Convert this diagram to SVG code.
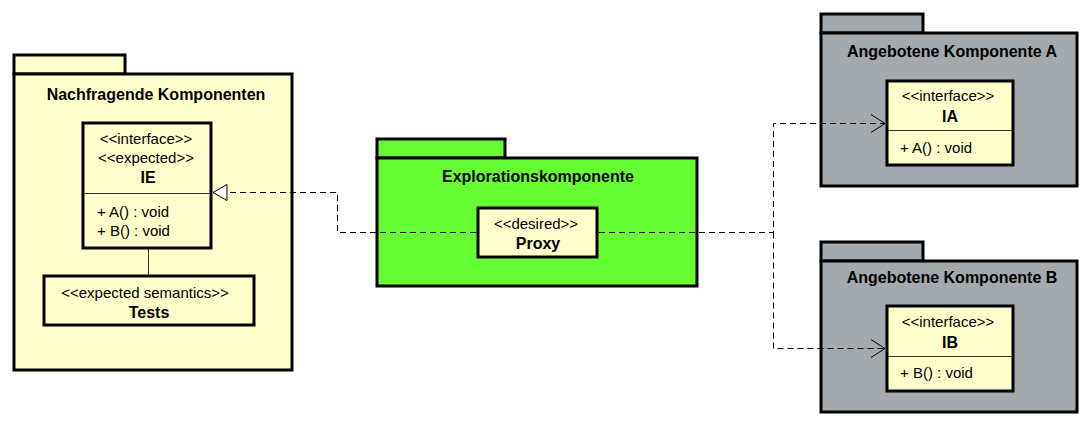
<svg xmlns="http://www.w3.org/2000/svg" width="1092" height="425" viewBox="0 0 1092 425">
  <style>
    .pkg { stroke: #000; stroke-width: 3; }
    .yel { fill: #FFFFCC; }
    .grn { fill: #66FF33; }
    .gry { fill: #A3A9AC; }
    .cls { fill: #FFFFCC; stroke: #000; stroke-width: 3; }
    .div { stroke: #333; stroke-width: 1; }
    .t { font-family: "Liberation Sans", Arial, sans-serif; font-size: 15px; fill: #000; }
    .b { font-family: "Liberation Sans", Arial, sans-serif; font-size: 16px; font-weight: bold; fill: #000; }
    .c { text-anchor: middle; }
    .dash { fill: none; stroke: #000; stroke-width: 1; stroke-dasharray: 6 4; }
  </style>
  <defs>
    <marker id="tri" markerUnits="userSpaceOnUse" markerWidth="17" markerHeight="19" viewBox="0 0 17 19" refX="16" refY="9.5" orient="auto">
      <path d="M2,1.5 L16,9.5 L2,17.5 Z" fill="#fff" stroke="#000" stroke-width="1"/>
    </marker>
    <marker id="open" markerUnits="userSpaceOnUse" markerWidth="17" markerHeight="20" viewBox="0 0 17 20" refX="16" refY="10" orient="auto">
      <path d="M2,1 L16,10 L2,19" fill="none" stroke="#000" stroke-width="1"/>
    </marker>
  </defs>
  <rect width="1092" height="425" fill="#fff"/>

  <g id="pkg-nachfragende">
    <rect class="pkg yel" x="14" y="55" width="111" height="19"/>
    <rect class="pkg yel" x="14" y="74" width="278" height="296"/>
    <text class="b c" x="156" y="100">Nachfragende Komponenten</text>
  </g>

  <g id="pkg-exploration">
    <rect class="pkg grn" x="377" y="139" width="128" height="19"/>
    <rect class="pkg grn" x="377" y="158" width="320" height="128"/>
    <text class="b c" x="538" y="182">Explorationskomponente</text>
  </g>

  <g id="pkg-a">
    <rect class="pkg gry" x="821" y="14" width="102" height="19"/>
    <rect class="pkg gry" x="821" y="33" width="256" height="153"/>
    <text class="b c" x="952" y="57">Angebotene Komponente A</text>
  </g>

  <g id="pkg-b">
    <rect class="pkg gry" x="821" y="242" width="102" height="19"/>
    <rect class="pkg gry" x="821" y="261" width="256" height="151"/>
    <text class="b c" x="952" y="283">Angebotene Komponente B</text>
  </g>

  <g id="class-ie">
    <rect class="cls" x="83" y="123" width="128" height="125"/>
    <line class="div" x1="84" y1="193.5" x2="210" y2="193.5"/>
    <text class="t c" x="146" y="144">&lt;&lt;interface&gt;&gt;</text>
    <text class="t c" x="146" y="163">&lt;&lt;expected&gt;&gt;</text>
    <text class="b c" x="148" y="183">IE</text>
    <text class="t" x="97" y="217">+ A() : void</text>
    <text class="t" x="97" y="236">+ B() : void</text>
  </g>

  <g id="tests">
    <rect class="cls" x="44" y="276" width="210" height="49"/>
    <text class="t c" x="145" y="298">&lt;&lt;expected semantics&gt;&gt;</text>
    <text class="b c" x="149" y="318">Tests</text>
  </g>

  <g id="proxy">
    <rect class="cls" x="478" y="208" width="119" height="49"/>
    <text class="t c" x="536" y="229">&lt;&lt;desired&gt;&gt;</text>
    <text class="b c" x="538" y="249">Proxy</text>
  </g>

  <g id="class-ia">
    <rect class="cls" x="887" y="81" width="126" height="84"/>
    <line class="div" x1="888" y1="130.5" x2="1012" y2="130.5"/>
    <text class="t c" x="948" y="101">&lt;&lt;interface&gt;&gt;</text>
    <text class="b c" x="950" y="122">IA</text>
    <text class="t" x="900" y="153">+ A() : void</text>
  </g>

  <g id="class-ib">
    <rect class="cls" x="887" y="306" width="126" height="85"/>
    <line class="div" x1="888" y1="356.5" x2="1012" y2="356.5"/>
    <text class="t c" x="948" y="327">&lt;&lt;interface&gt;&gt;</text>
    <text class="b c" x="950" y="348">IB</text>
    <text class="t" x="900" y="378">+ B() : void</text>
  </g>

  <g id="connectors">
    <line x1="148.5" y1="249" x2="148.5" y2="275" stroke="#333" stroke-width="1"/>
    <path class="dash" d="M476,232.5 H337.5 V192.5 H213" marker-end="url(#tri)"/>
    <path class="dash" d="M599,232.5 H773.5 V123.5 H885" marker-end="url(#open)"/>
    <path class="dash" d="M773.5,232.5 V348.5 H885" marker-end="url(#open)"/>
  </g>
</svg>
